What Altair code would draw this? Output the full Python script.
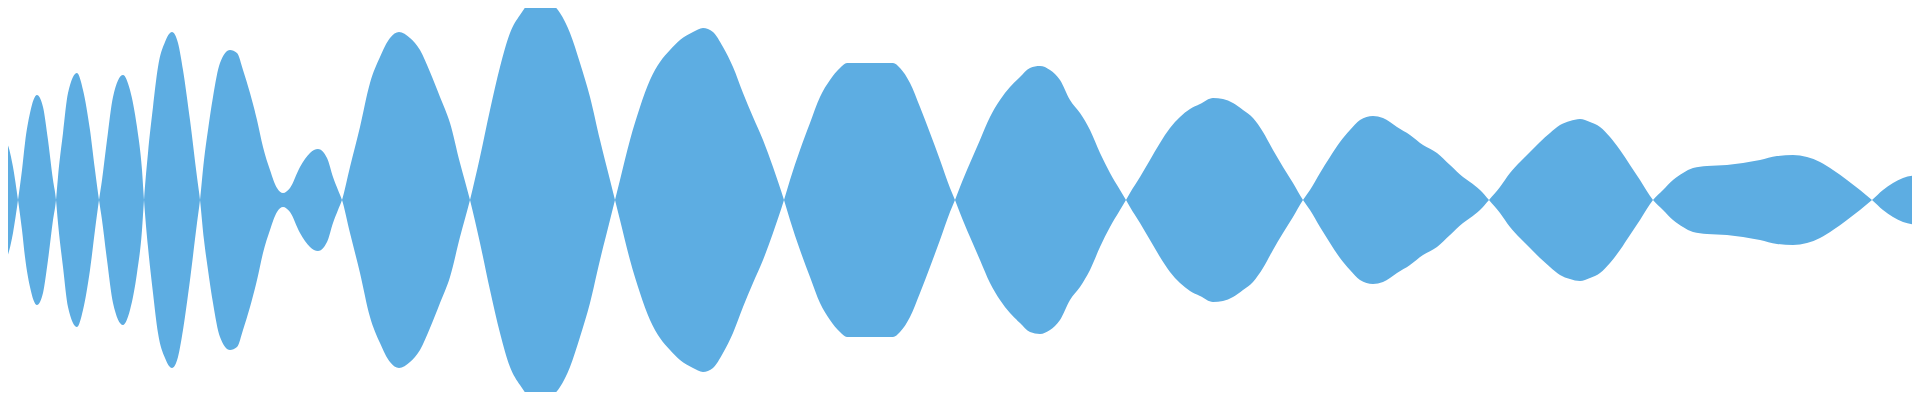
import altair as alt
import pandas as pd

# sample position and signed amplitude (lobes alternate in sign)
t = [0, 6, 13, 18,
     22, 25, 30, 37, 43, 48, 53, 56,
     58, 63, 68, 77, 83, 90, 95, 99,
     102, 107, 113, 123, 130, 137, 142, 144,
     148, 153, 158, 165, 172, 178, 183, 190, 197, 200,
     204, 208, 213, 220, 230, 237, 243, 250, 257, 263, 270, 277, 283, 290,
     300, 310, 318, 327, 333, 338, 342,
     350, 360, 370, 380, 390, 399, 410, 420, 430, 440, 450, 460, 470,
     480, 490, 500, 510, 520, 530, 540, 550, 560, 570, 580, 590, 600, 610, 615,
     620, 630, 640, 650, 660, 670, 680, 693, 703, 713, 723, 733, 743, 753, 763, 773, 784,
     790, 800, 810, 820, 830, 840, 847, 870, 893, 900, 910, 920, 930, 940, 950, 955,
     960, 970, 980, 990, 1000, 1010, 1020, 1030, 1040, 1050, 1060, 1070, 1080, 1090,
     1100, 1110, 1120, 1126,
     1130, 1140, 1150, 1160, 1170, 1180, 1190, 1200, 1213, 1223, 1233, 1243, 1253,
     1263, 1273, 1283, 1293, 1303,
     1310, 1320, 1330, 1340, 1350, 1360, 1373, 1383, 1397, 1410, 1423, 1437, 1450,
     1463, 1470, 1480, 1489,
     1500, 1510, 1520, 1530, 1540, 1550, 1560, 1570, 1580, 1590, 1600, 1610, 1620,
     1630, 1640, 1653,
     1663, 1673, 1683, 1693, 1707, 1727, 1743, 1760, 1777, 1793, 1807, 1820, 1833,
     1847, 1860, 1872,
     1883, 1893, 1903, 1919]
amp = [47, 57, 33, 0,
       -30, -57, -87, -105, -93, -60, -20, 0,
       23, 67, 107, 127, 110, 70, 30, 0,
       -20, -60, -103, -125, -110, -73, -30, 0,
       47, 93, 133, 158, 168, 157, 130, 80, 23, 0,
       -40, -70, -103, -137, -150, -147, -130, -107, -80, -53, -30, -12, -7, -12,
       -33, -47, -51, -42, -23, -10, 0,
       33, 73, 117, 143, 162, 168, 162, 150, 128, 103, 77, 37, 0,
       -43, -90, -133, -167, -185, -197, -199, -197, -187, -167, -137, -103, -60, -20, 0,
       20, 60, 93, 120, 138, 150, 160, 168, 172, 168, 153, 133, 107, 83, 60, 33, 0,
       -20, -50, -77, -103, -120, -132, -137, -137, -137, -132, -117, -93, -67, -40, -12, 0,
       13, 37, 60, 83, 100, 113, 123, 132, 134, 130, 120, 100, 87, 70,
       47, 27, 10, 0,
       -7, -23, -40, -57, -72, -83, -91, -96, -102, -101, -97, -90, -82,
       -68, -50, -33, -17, 0,
       10, 27, 43, 58, 70, 80, 84, 82, 73, 65, 55, 47, 35,
       23, 18, 10, 0,
       -13, -27, -38, -48, -58, -67, -75, -79, -81, -78, -73, -63, -50,
       -35, -20, 0,
       10, 20, 27, 32, 34, 35, 37, 40, 44, 45, 43, 38, 30,
       20, 10, 0,
       -10, -17, -22, -25]

df = pd.DataFrame({"t": t, "amp": amp})

chart = (
    alt.Chart(df)
    .transform_calculate(neg="-datum.amp")
    .mark_area(color="#5DADE2", interpolate="monotone", clip=True, opacity=1)
    .encode(
        x=alt.X("t:Q", axis=None, scale=alt.Scale(domain=[8, 1912], nice=False, zero=False)),
        y=alt.Y("amp:Q", axis=None, scale=alt.Scale(domain=[-192, 192], nice=False)),
        y2="neg:Q",
    )
    .properties(width=1904, height=384, padding=0, autosize="none", background="white")
    .configure_view(stroke=None)
)

chart.save("out.html", embed_options={"renderer": "svg", "actions": False})
